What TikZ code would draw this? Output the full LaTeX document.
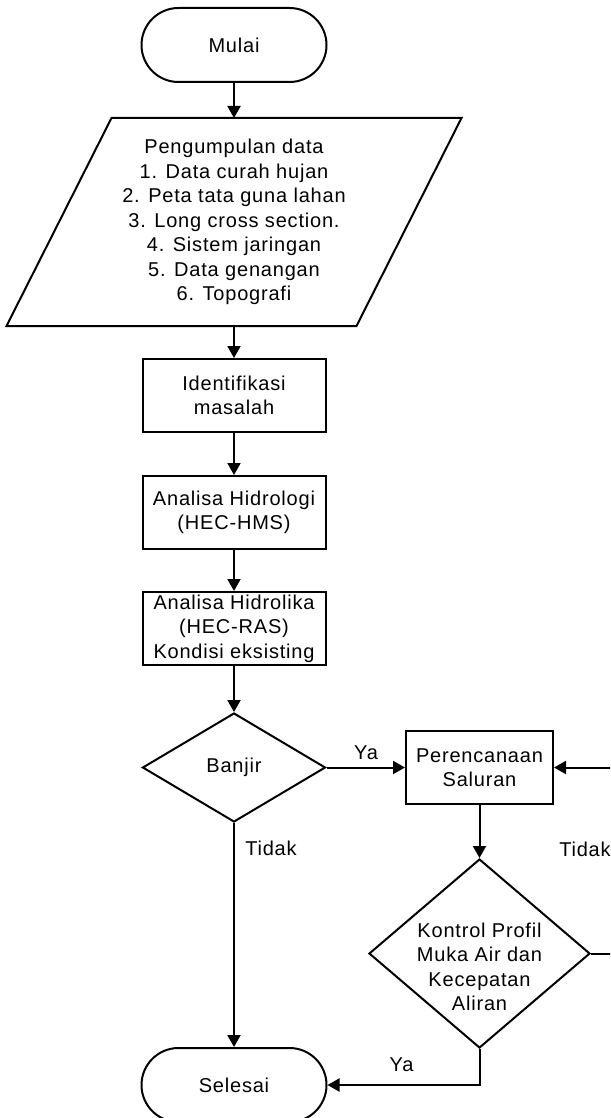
\documentclass[tikz,border=0pt]{standalone}
\usepackage{fontspec}
\setmainfont{Liberation Sans}[LetterSpace=4]
\usetikzlibrary{shapes.geometric,arrows.meta}
\begin{document}
\begin{tikzpicture}[x=1pt,y=-1pt,
  font=\fontsize{20}{24.5}\selectfont,
  line width=2pt,
  arr/.style={-{Triangle[width=13pt,length=12pt]}},
  term/.style={draw, rounded corners=37pt, minimum width=185pt, minimum height=74pt, inner sep=0pt},
  proc/.style={draw, minimum width=183pt, minimum height=73pt, align=center, inner sep=0pt},
  dec/.style={draw, diamond, inner sep=0pt},
  lbl/.style={inner sep=0pt, align=center}]
\useasboundingbox (0,0) rectangle (610,1118);
\clip (0,0) rectangle (610,1118);

% nodes
\node[term] (mulai) at (234,45) {Mulai};
\node[inner sep=0pt, minimum width=348pt, minimum height=206pt, align=center] (pg) at (234,222)
  {Pengumpulan data\\1. Data curah hujan\\2. Peta tata guna lahan\\3. Long cross section.\\4. Sistem jaringan\\5. Data genangan\\6. Topografi};
\draw ([xshift=-52.5pt]pg.south west) -- ([xshift=52.5pt]pg.north west)
   -- ([xshift=52.5pt]pg.north east) -- ([xshift=-52.5pt]pg.south east) -- cycle;
\node[proc] (ident) at (234,395.5) {Identifikasi\\masalah};
\node[proc] (hidro) at (234,512.5) {Analisa Hidrologi\\(HEC-HMS)};
\node[proc] (hidra) at (234,628.5) {Analisa Hidrolika\\(HEC-RAS)\\Kondisi eksisting};
\node[dec, minimum width=183pt, minimum height=109pt] (banjir) at (234,767.5) {Banjir};
\node[proc, minimum width=147pt] (peren) at (479.5,767.5) {Perencanaan\\Saluran};
\node[dec, minimum width=221pt, minimum height=189pt] (kontrol) at (479.5,953.5) {};
\node[lbl] (kontroltxt) at (479.5,967) {Kontrol Profil\\Muka Air dan\\Kecepatan\\Aliran};
\node[term] (selesai) at (234,1085) {Selesai};

% connectors
\draw[arr] (mulai.south) -- (pg.north);
\draw[arr] (pg.south) -- (ident.north);
\draw[arr] (ident.south) -- (hidro.north);
\draw[arr] (hidro.south) -- (hidra.north);
\draw[arr] (hidra.south) -- (banjir.north);
\draw[arr] (banjir.east) -- (peren.west);
\draw[arr] (banjir.south) -- (selesai.north);
\draw[arr] (peren.south) -- (kontrol.north);
\draw[arr] (kontrol.east) -- ++(35,0) |- (peren.east);
\draw[arr] (kontrol.south) |- (selesai.east);

% labels
\node[lbl] (ya1) at (366,753) {Ya};
\node[lbl] (tidak1) at (271,848) {Tidak};
\node[lbl] (tidak2) at (585,849) {Tidak};
\node[lbl] (ya2) at (401.5,1065) {Ya};
\end{tikzpicture}
\end{document}
